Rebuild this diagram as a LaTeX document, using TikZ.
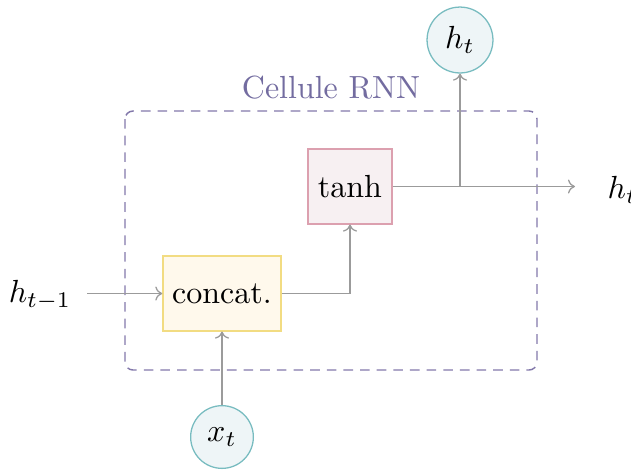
\documentclass[tikz,border=0pt]{standalone}
\usetikzlibrary{arrows.meta}
\definecolor{linegray}{RGB}{155,155,155}
\definecolor{cellcol}{RGB}{115,108,160}
\definecolor{dashcol}{RGB}{130,120,170}
\definecolor{concatfill}{RGB}{255,249,236}
\definecolor{concatdraw}{RGB}{242,220,130}
\definecolor{tanhfill}{RGB}{247,240,242}
\definecolor{tanhdraw}{RGB}{220,160,175}
\definecolor{circfill}{RGB}{238,245,247}
\definecolor{circdraw}{RGB}{120,188,192}
\tikzset{
  conn/.style={draw=linegray, line width=0.4pt, -{To[length=2.2pt,width=4.4pt]}},
  opbox/.style={rectangle, line width=0.4pt, inner sep=0pt, minimum height=23.4pt},
  iocirc/.style={circle, fill=circfill, draw=circdraw, line width=0.4pt, inner sep=0pt},
  cellbox/.style={draw=dashcol, line width=0.45pt, dash pattern=on 3pt off 2.2pt, rounded corners=2.5pt}
}
\begin{document}
\begin{tikzpicture}[x=0.3125pt,y=-0.3125pt]
\useasboundingbox (0,0) rectangle (631,470);
\draw[cellbox] (125,111) rectangle (537,370);
\node[text=cellcol] (cell) at (331,88) {Cellule RNN};
\node[opbox, fill=concatfill, draw=concatdraw, minimum width=36.9pt] (concat) at (222,293.5) {concat.};
\node[opbox, fill=tanhfill, draw=tanhdraw, minimum width=26.3pt] (tanh) at (350,186.5) {tanh};
\node[iocirc, minimum size=20.6pt] (ht) at (460,40) {$h_t$};
\node[iocirc, minimum size=19.6pt] (xt) at (222,437) {$x_t$};
\node (htm1) at (40,295) {$h_{t-1}$};
\node[anchor=west, inner sep=0pt] (hout) at (607,190) {$h_t$};
\coordinate (hs) at (87,293.5);
\coordinate (outend) at (575,186.5);
\coordinate (branch) at (460,186.5);
\draw[conn] (hs) -- (concat.west);
\draw[conn] (xt.north) -- (concat.south);
\draw[conn] (concat.east) -| (tanh.south);
\draw[conn] (tanh.east) -- (outend);
\draw[conn] (branch) -- (ht.south);
\end{tikzpicture}
\end{document}
